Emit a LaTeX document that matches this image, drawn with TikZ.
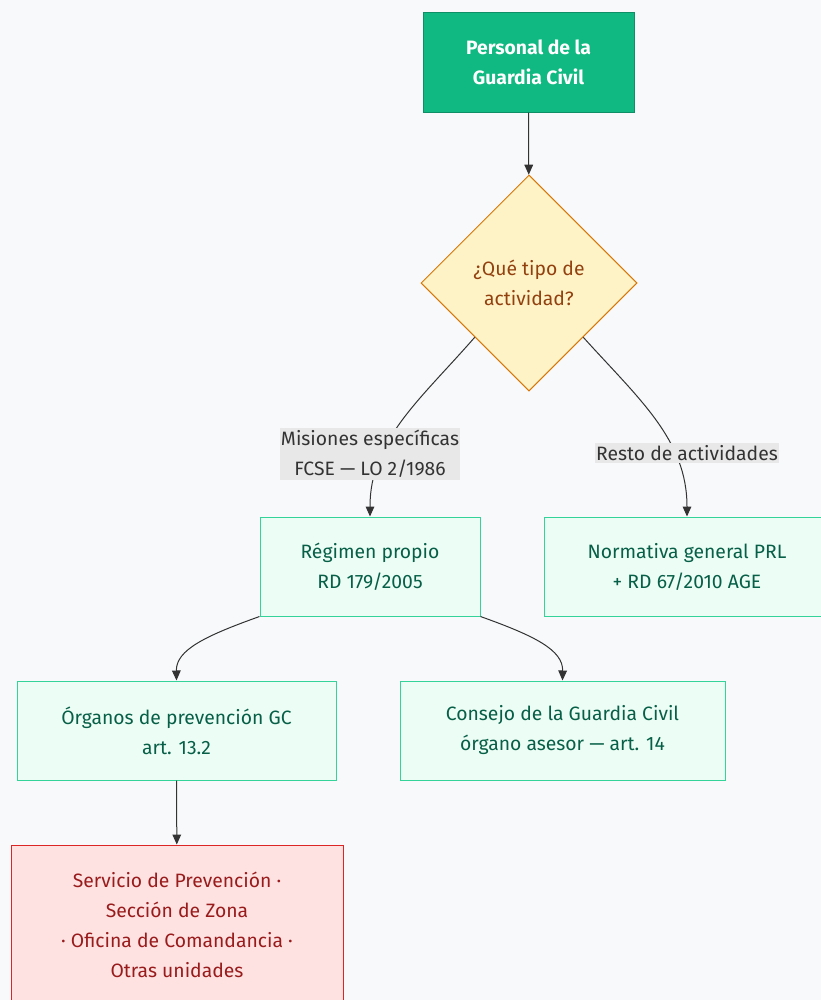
\documentclass[tikz,border=0pt]{standalone}
\usepackage{fontspec}
\setmainfont{Fira Sans}
\usetikzlibrary{positioning, shapes.geometric, arrows.meta}

\definecolor{fondo}{HTML}{F8F9FB}
\definecolor{verdeFuerte}{HTML}{10B981}
\definecolor{verdeBorde}{HTML}{0E8F66}
\definecolor{verdeClaro}{HTML}{ECFDF5}
\definecolor{verdeLinea}{HTML}{34D399}
\definecolor{verdeTexto}{HTML}{065F46}
\definecolor{amarillo}{HTML}{FEF3C7}
\definecolor{naranja}{HTML}{D97706}
\definecolor{marron}{HTML}{92400E}
\definecolor{rosa}{HTML}{FEE2E2}
\definecolor{rojo}{HTML}{DC2626}
\definecolor{granate}{HTML}{991B1B}
\definecolor{gris}{HTML}{333333}
\definecolor{grisEtiqueta}{HTML}{E8E8E8}

\tikzset{
    texto/.style={
        align=center,
        font=\fontsize{14.5}{22.5}\selectfont
    },
    inicio/.style={
        texto,
        rectangle,
        draw=verdeBorde,     % Kontur dunkelgrün
        fill=verdeFuerte,
        text=white,
        font=\fontsize{14.5}{22.5}\selectfont\bfseries,
        line width=0.75pt
    },
    decision/.style={
        texto,
        diamond,
        aspect=1,
        inner sep=0pt,
        draw=naranja,
        fill=amarillo,
        text=marron,
        line width=0.75pt
    },
    caja/.style={
        texto,
        rectangle,
        draw=verdeLinea,
        fill=verdeClaro,
        text=verdeTexto,
        line width=0.75pt
    },
    alerta/.style={
        texto,
        rectangle,
        draw=rojo,
        fill=rosa,
        text=granate,
        line width=0.75pt
    },
    etiqueta/.style={
        texto,
        fill=grisEtiqueta,
        text=gris,
        inner xsep=1pt,
        inner ysep=2pt
    },
    flecha/.style={
        draw=gris,
        line width=0.75pt,
        -{Triangle[length=7.5pt,width=6.5pt]}
    }
}

\begin{document}
\begin{tikzpicture}[x=0.75pt, y=-0.75pt]

    % Fondo y recorte del lienzo
    \path[use as bounding box, fill=fondo] (0,0) rectangle (821,1000);
    \clip (0,0) rectangle (821,1000);

    % Nodo superior
    \node[inicio, minimum width=211*0.75pt, minimum height=100*0.75pt] (personal) at (528.5,62) {Personal de la\\Guardia Civil};

    % Pregunta central
    \node[decision, minimum size=216*0.75pt] (tipo) at (529,283) {¿Qué tipo de\\actividad?};

    % Rama izquierda: régimen propio
    \node[caja, minimum width=220*0.75pt, minimum height=99*0.75pt] (regimen) at (370,566.5) {Régimen propio\\RD 179/2005};

    % Rama derecha: normativa general
    \node[caja, minimum width=286*0.75pt, minimum height=99*0.75pt] (normativa) at (687,566.5) {Normativa general PRL\\+ RD 67/2010 AGE};

    % Órganos de prevención
    \node[caja, minimum width=319*0.75pt, minimum height=99*0.75pt] (organos) at (176.5,730.5) {Órganos de prevención GC\\art. 13.2};

    % Consejo
    \node[caja, minimum width=325*0.75pt, minimum height=99*0.75pt] (consejo) at (562.5,730.5) {Consejo de la Guardia Civil\\órgano asesor — art. 14};

    % Servicio de prevención
    \node[alerta, minimum width=332*0.75pt, minimum height=160*0.75pt] (servicio) at (177,925) {Servicio de Prevención ·\\Sección de Zona\\· Oficina de Comandancia ·\\Otras unidades};

    % Conexiones
    \draw[flecha] (personal) -- (tipo);
    \draw[flecha] (tipo.south west) .. controls (420,400) and (370,440) .. (regimen.north);
    \draw[flecha] (tipo.south east) .. controls (640,400) and (687,440) .. (normativa.north);
    \draw[flecha] (regimen.south west) .. controls (205,636) and (176,650) .. (organos.north);
    \draw[flecha] (regimen.south east) .. controls (535,636) and (563,650) .. (consejo.north);
    \draw[flecha] (organos) -- (servicio);

    % Etiquetas de las ramas
    \node[etiqueta] (lblmisiones) at (370,454) {Misiones específicas\\FCSE — LO 2/1986};
    \node[etiqueta] (lblresto) at (687,453) {Resto de actividades};

\end{tikzpicture}
\end{document}
